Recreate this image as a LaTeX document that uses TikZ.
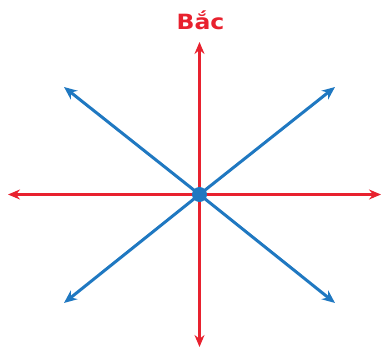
\documentclass[tikz,border=0pt]{standalone}
\usepackage{fontspec}
\setmainfont{DejaVu Sans}
\usetikzlibrary{arrows.meta}
\definecolor{cred}{HTML}{E8212E}
\definecolor{cblue}{HTML}{1F78C1}
\begin{document}
\begin{tikzpicture}[x=1pt,y=-1pt,
  redarrow/.style={draw=cred,line width=2.3pt,-{Stealth[length=12pt,width=10pt]}},
  bluearrow/.style={draw=cblue,line width=3pt,-{Stealth[length=13pt,width=11pt]}},
  label/.style={text=cred,font=\bfseries\fontsize{21}{24}\selectfont,inner sep=0pt,anchor=base,xscale=1.12}]
\useasboundingbox (0,0) rectangle (381,347);
\coordinate (c) at (199.5,194.5);
\coordinate (n) at (199.5,42);
\coordinate (s) at (199.5,347);
\coordinate (w) at (8,194.5);
\coordinate (e) at (381,194.5);
\coordinate (nw) at (64,87);
\coordinate (ne) at (335,87);
\coordinate (sw) at (64,303);
\coordinate (se) at (335,303);
\draw[bluearrow] (c) -- (nw);
\draw[bluearrow] (c) -- (ne);
\draw[bluearrow] (c) -- (sw);
\draw[bluearrow] (c) -- (se);
\draw[redarrow] (c) -- (n);
\draw[redarrow] (c) -- (s);
\draw[redarrow] (c) -- (w);
\draw[redarrow] (c) -- (e);
\node[circle,fill=cblue,minimum size=15pt,inner sep=0pt] (dot) at (c) {};
\node[label] (bac) at (200.5,30) {Bắc};
\end{tikzpicture}
\end{document}
